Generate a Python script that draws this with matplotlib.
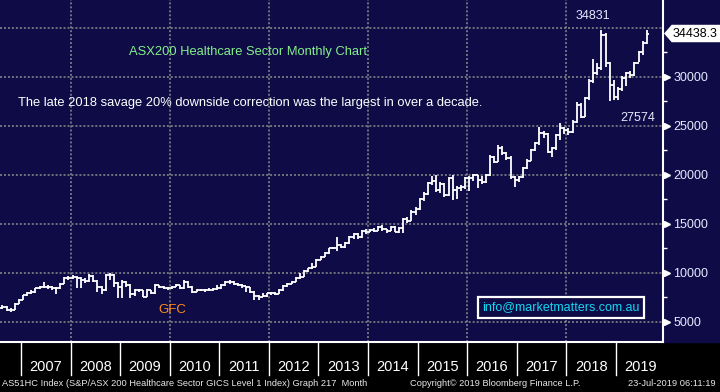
import numpy as np
import matplotlib
matplotlib.use("Agg")
import matplotlib.pyplot as plt
import matplotlib.transforms as mtransforms
from matplotlib.patches import Polygon, Rectangle

plt.rcParams['font.family'] = ['Liberation Sans', 'DejaVu Sans']

years = [2007, 2008, 2009, 2010, 2011, 2012, 2013, 2014, 2015, 2016, 2017, 2018, 2019]

# monthly bars, oldest first (late 2006 .. Jul 2019)
opens = [
    6450, 6560, 6220, 6220, 6840,
    7240, 7750, 7990, 8090, 8430, 8540, 8540, 8600, 8430, 8430, 8880, 9460,
    9460, 9630, 9460, 9290, 9190, 9700, 9190, 8600, 8260, 9800, 9800, 8950,
    8610, 9120, 8780, 7820, 8260, 8260, 7580, 8260, 7920, 8780, 8610, 8430,
    8430, 8610, 8780, 8430, 9120, 8610, 8090, 8260, 8260, 8260, 8260, 8350,
    8430, 8780, 9120, 9120, 8880, 8780, 8670, 8540, 8100, 7650, 7590, 7650,
    7920, 7920, 7900, 8270, 8670, 8880, 9120, 9460, 9630, 10240, 10470, 10650,
    11330, 11670, 12000, 12520, 12520, 12860, 12690, 13060, 13700, 13980, 13640, 14320,
    14220, 14390, 14320, 14730, 14460, 14320, 14730, 14220, 14560, 15480, 15340, 16260,
    16500, 17520, 18060, 19150, 19420, 18470, 19080, 17960, 19660, 18470, 18640, 18740,
    19660, 19660, 20000, 19490, 19320, 20000, 21870, 21360, 22720, 22210, 21700, 19830,
    19490, 19760, 20680, 21460, 22550, 23230, 24250, 24180, 22380, 22720, 24080, 24760,
    24590, 24420, 25440, 27140, 25950, 27820, 29620, 30360, 30870, 34270, 31380, 29170,
    27990, 28730, 29850, 30360, 30190, 31380, 32570, 33490,
]
highs = [
    6700, 6600, 6400, 6900, 7300,
    7800, 8100, 8250, 8500, 8700, 9110, 8750, 8700, 8600, 8950, 9630, 9700,
    9800, 9700, 9600, 9450, 9900, 9800, 9300, 8700, 9900, 10000, 9850, 9120,
    9290, 9200, 8850, 8350, 8400, 8300, 8350, 8300, 8850, 8800, 8650, 8600,
    8700, 8850, 8800, 9290, 9150, 8650, 8350, 8400, 8400, 8450, 8500, 8800,
    8850, 9200, 9250, 9150, 8950, 8850, 8700, 8600, 8150, 7800, 8000, 8000,
    8050, 8100, 8350, 8750, 8950, 9200, 9550, 10000, 10300, 10550, 11000, 11400,
    11750, 12100, 12600, 12700, 13700, 13000, 13150, 13800, 14100, 14050, 14400, 14450,
    14500, 14600, 14800, 14900, 14500, 14800, 14750, 14650, 15600, 15700, 16400, 16700,
    17700, 18300, 19300, 19930, 20000, 19300, 19150, 19800, 20000, 18900, 19000, 19750,
    19900, 20100, 20050, 19900, 20100, 22050, 21950, 23060, 23000, 22300, 21900, 19900,
    19900, 20800, 21600, 22700, 23400, 24930, 24500, 24250, 22900, 24200, 25270, 24900,
    24800, 25600, 27480, 27300, 28000, 29800, 31790, 31380, 34831, 34500, 31500, 29700,
    29000, 30100, 30500, 30600, 31500, 32700, 33700, 34780,
]
lows = [
    6350, 6150, 6050, 6200, 6800,
    7200, 7700, 7900, 8000, 8350, 8450, 8400, 8300, 7860, 8400, 8850, 9300,
    9350, 8430, 8430, 9000, 9100, 9100, 8090, 7900, 8200, 9300, 8600, 7410,
    7450, 8600, 7410, 7700, 8100, 7500, 7550, 7850, 7900, 8500, 8350, 8300,
    8400, 8550, 8350, 8400, 8500, 8000, 8050, 8150, 8100, 8150, 8200, 8300,
    8400, 8700, 8900, 8800, 8650, 8500, 8100, 7950, 7250, 7250, 7500, 7600,
    7800, 7750, 7850, 8200, 8600, 8850, 9050, 9400, 9600, 10150, 10400, 10600,
    11300, 11600, 11950, 12400, 12200, 12500, 12600, 13000, 13500, 13500, 13600, 14000,
    14150, 14200, 14250, 14300, 14100, 14250, 14150, 14100, 14100, 15100, 15300, 15900,
    16400, 17300, 18000, 19000, 18300, 18200, 17800, 17900, 17450, 17500, 18400, 18600,
    18400, 19400, 18700, 19100, 19200, 19900, 21200, 21300, 22000, 21500, 19600, 18810,
    19300, 19700, 20600, 21400, 22400, 23100, 23800, 22200, 21800, 22600, 23570, 24200,
    24100, 24250, 25300, 25800, 25900, 27700, 29400, 30200, 30700, 31000, 27574, 27700,
    27640, 28600, 29100, 29900, 30100, 31500, 32230, 33400,
]
closes = [
    6560, 6220, 6220, 6840, 7240,
    7750, 7990, 8090, 8430, 8540, 8540, 8600, 8430, 8430, 8880, 9460, 9460,
    9630, 9460, 9290, 9190, 9700, 9190, 8600, 8260, 9800, 9800, 8950, 8610,
    9120, 8780, 7820, 8260, 8260, 7580, 8260, 7920, 8780, 8610, 8430, 8430,
    8610, 8780, 8430, 9120, 8610, 8090, 8260, 8260, 8260, 8260, 8350, 8430,
    8780, 9120, 9120, 8880, 8780, 8670, 8540, 8100, 7650, 7590, 7650, 7920,
    7920, 7900, 8270, 8670, 8880, 9120, 9460, 9630, 10240, 10470, 10650, 11330,
    11670, 12000, 12520, 12520, 12860, 12690, 13060, 13700, 13980, 13640, 14320, 14220,
    14390, 14320, 14730, 14460, 14320, 14730, 14220, 14560, 15480, 15340, 16260, 16500,
    17520, 18060, 19150, 19420, 18470, 19080, 17960, 19660, 18470, 18640, 18740, 19660,
    19660, 20000, 19490, 19320, 20000, 21870, 21360, 22720, 22210, 21700, 19830, 19490,
    19760, 20680, 21460, 22550, 23230, 24250, 24180, 22380, 22720, 24080, 24760, 24590,
    24420, 25440, 27140, 25950, 27820, 29620, 30360, 30870, 34270, 31380, 29170, 27990,
    28730, 29850, 30360, 30190, 31380, 32570, 33490, 34438.3,
]

grid_levels = [5000, 10000, 15000, 20000, 25000, 30000, 35000]
label_levels = [5000, 10000, 15000, 20000, 25000, 30000]
minor_levels = [7500, 12500, 17500, 22500, 27500, 32500]

NAVY = '#0e0b46'
GRID = '#8c8c8c'
LABEL = '#e4ecff'

x = np.arange(len(closes))


def jan_index(yr):
    # bar index where the year starts (first bar is Aug 2006)
    return 5 + 12 * (yr - 2007) - 0.5


fig = plt.figure(figsize=(7.2, 3.92), dpi=100, facecolor='black')
fig.patches.append(Rectangle((0, 50 / 392), 1, 342 / 392, transform=fig.transFigure,
                             color=NAVY, zorder=-1))
ax = fig.add_axes([0, 50 / 392, 663 / 720, 342 / 392], facecolor=NAVY)
ax.set_xlim(-0.58, 159.9)
ax.set_ylim(2959, 37857)

# dotted grid
for lev in grid_levels:
    ax.axhline(lev, color=GRID, lw=1.1, ls=(0, (1.3, 1.3)), zorder=1)
for yr in years[1::2]:
    ax.axvline(jan_index(yr), color=GRID, lw=1.1, ls=(0, (1.3, 1.3)), zorder=1)

# OHLC bars
ax.vlines(x, lows, highs, color='white', lw=1.3, zorder=3)
ax.hlines(opens, x - 0.5, x, color='white', lw=1.3, zorder=3)
ax.hlines(closes, x, x + 0.5, color='white', lw=1.3, zorder=3)

for s in ['left', 'top']:
    ax.spines[s].set_visible(False)
for s in ['right', 'bottom']:
    ax.spines[s].set_color('white')
    ax.spines[s].set_linewidth(1.5)

ax.set_xticks([])
ax.yaxis.tick_right()
ax.set_yticks(label_levels)
ax.set_yticklabels([str(v) for v in label_levels])
ax.set_yticks(minor_levels, minor=True)
ax.tick_params(axis='y', which='major', length=0, pad=7.5, labelcolor=LABEL, labelsize=9)
ax.tick_params(axis='y', which='minor', length=3, width=1, color='white', direction='out')

t_ay = mtransforms.blended_transform_factory(ax.transAxes, ax.transData)
t_xa = mtransforms.blended_transform_factory(ax.transData, ax.transAxes)
ax.plot([1 + 3.5 / 663] * len(label_levels), label_levels, ls='none', marker='>', ms=5,
        color='white', transform=t_ay, clip_on=False)

# last price tag
last = closes[-1]
dy = 820
tag = Polygon([(665 / 663, last), (672 / 663, last + dy), (1.1, last + dy),
               (1.1, last - dy), (672 / 663, last - dy)], closed=True,
              fc='white', ec='white', transform=t_ay, clip_on=False, zorder=5)
ax.add_patch(tag)
ax.text(695 / 663, last, f"{last:.1f}", transform=t_ay, ha='center', va='center',
        color='black', fontsize=9, zorder=6, clip_on=False)

# high / low labels
imax = int(np.argmax(highs))
ax.annotate(f"{highs[imax]:.0f}", (x[imax], highs[imax]), xytext=(-9, 14),
            textcoords='offset pixels', ha='center', va='center', color=LABEL, fontsize=9)
imin = imax + int(np.argmin(lows[imax:]))
ax.annotate(f"{lows[imin]:.0f}", (x[imin], lows[imin]), xytext=(28, -17),
            textcoords='offset pixels', ha='center', va='center', color=LABEL, fontsize=9)

# texts in the plot
ax.text(248 / 663, 290 / 342, "ASX200 Healthcare Sector Monthly Chart", transform=ax.transAxes,
        ha='center', va='center', color='#84f08a', fontsize=9.3)
ax.text(18 / 663, 239 / 342,
        "The late 2018 savage 20% downside correction was the largest in over a decade.",
        transform=ax.transAxes, ha='left', va='center', color='white', fontsize=9.3)
ax.text(172 / 663, 32 / 342, "GFC", transform=ax.transAxes, ha='center', va='center',
        color='#ff8c1a', fontsize=9.5)
ax.text(561 / 663, 34.5 / 342, "info@marketmatters.com.au", transform=ax.transAxes,
        ha='center', va='center', color='#14d8f0', fontsize=9, zorder=6,
        bbox=dict(boxstyle='square,pad=0.35', fc=NAVY, ec='white', lw=1.6))

# year strip
for yr in years:
    b = jan_index(yr)
    ax.plot([b, b], [0, -33 / 342], color='white', lw=1, transform=t_xa, clip_on=False)
    ax.text(b + 6, -25 / 342, str(yr), transform=t_xa, ha='center', va='center',
            color='white', fontsize=10.5)

# footer
fy = 8 / 392
fig.text(2 / 720, fy, "AS51HC Index (S&P/ASX 200 Healthcare Sector GICS Level 1 Index) Graph 217  Month",
         ha='left', va='center', color='#e8e8e8', fontsize=6.7)
fig.text(410 / 720, fy, "Copyright\u00a9 2019 Bloomberg Finance L.P.", ha='left', va='center',
         color='#e8e8e8', fontsize=6.7)
fig.text(716 / 720, fy, "23-Jul-2019 06:11:19", ha='right', va='center',
         color='#e8e8e8', fontsize=6.7)

fig.savefig("out.png", dpi=100, facecolor='black')
